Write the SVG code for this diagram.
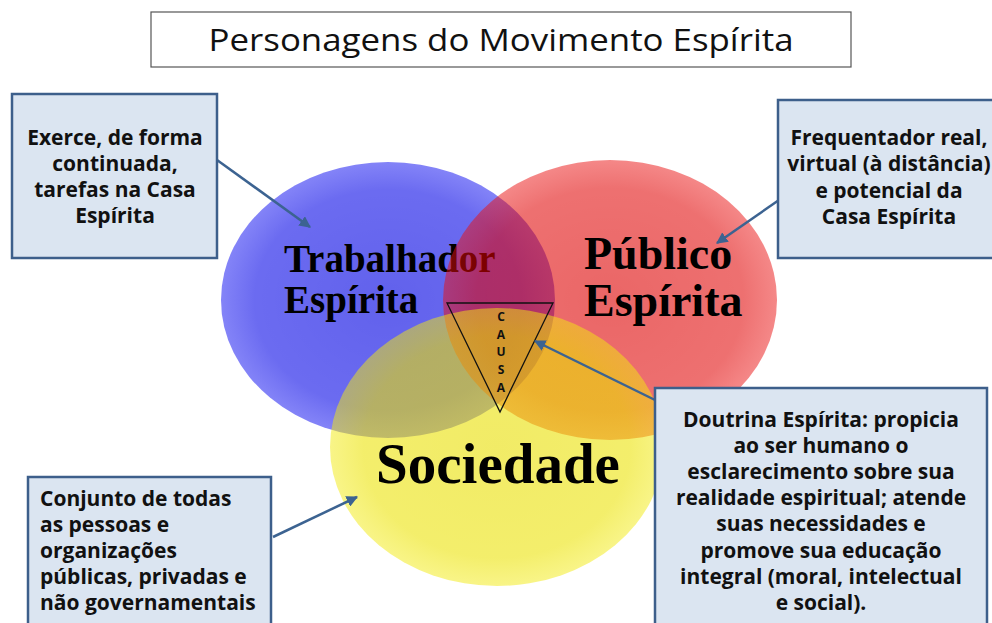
<svg xmlns="http://www.w3.org/2000/svg" width="992" height="623" viewBox="0 0 992 623">
<defs>
<style>
.box{fill:#dbe5f1;stroke:#3d5f8b;stroke-width:2.5}
.bt{font-family:"Open Sans","Liberation Sans",sans-serif;font-weight:bold;font-size:21px;fill:#111}
.c{text-anchor:middle}
.big{font-family:"Liberation Serif","Times New Roman",serif;font-weight:bold;fill:#000}
.arrow{stroke:#3c6391;stroke-width:2.5;fill:none;marker-end:url(#ah)}
</style>
<marker id="ah" viewBox="0 0 10 10" refX="9" refY="5" markerWidth="4.6" markerHeight="4.6" orient="auto" markerUnits="strokeWidth">
<path d="M0,0 L10,5 L0,10 z" fill="#3c6391"/>
</marker>
<radialGradient id="gb" cx="0.5" cy="0.5" r="0.5">
<stop offset="0" stop-color="#0000e0" stop-opacity="0.62"/>
<stop offset="0.8" stop-color="#0000e6" stop-opacity="0.58"/>
<stop offset="1" stop-color="#0808f0" stop-opacity="0.5"/>
</radialGradient>
<radialGradient id="gr" cx="0.5" cy="0.5" r="0.5">
<stop offset="0" stop-color="#dc0000" stop-opacity="0.6"/>
<stop offset="0.8" stop-color="#e00000" stop-opacity="0.56"/>
<stop offset="1" stop-color="#ea1010" stop-opacity="0.5"/>
</radialGradient>
<radialGradient id="gy" cx="0.5" cy="0.5" r="0.5">
<stop offset="0" stop-color="#e8de00" stop-opacity="0.6"/>
<stop offset="0.8" stop-color="#ebe200" stop-opacity="0.58"/>
<stop offset="1" stop-color="#f2ea10" stop-opacity="0.5"/>
</radialGradient>
</defs>
<rect width="992" height="623" fill="#ffffff"/>

<g id="title">
<rect x="151" y="12" width="700" height="55" fill="#fff" stroke="#555" stroke-width="1.2"/>
<text x="501" y="51" text-anchor="middle" font-family="'Open Sans','Liberation Sans',sans-serif" font-size="31" fill="#111" textLength="585" lengthAdjust="spacingAndGlyphs">Personagens do Movimento Espírita</text>
</g>

<g id="trabalhador">
<ellipse cx="388" cy="300" rx="167" ry="138" fill="url(#gb)"/>
<text class="big" x="284" y="272" font-size="39">Trabalhador</text>
<text class="big" x="284" y="313" font-size="39">Espírita</text>
</g>

<g id="publico">
<ellipse cx="610" cy="300" rx="167" ry="140" fill="url(#gr)"/>
<text class="big" x="584" y="269" font-size="46">Público</text>
<text class="big" x="584" y="316" font-size="46">Espírita</text>
</g>

<g id="sociedade">
<ellipse cx="497" cy="447" rx="167" ry="139" fill="url(#gy)"/>
<text class="big" x="498" y="483" font-size="57" text-anchor="middle">Sociedade</text>
</g>

<g id="causa">
<polygon points="447,303 553,303 500,412" fill="none" stroke="#111" stroke-width="1.3"/>
<g font-family="'Open Sans','Liberation Sans',sans-serif" font-weight="bold" font-size="12" text-anchor="middle" fill="#111">
<text x="501" y="321">C</text>
<text x="501" y="339">A</text>
<text x="501" y="356">U</text>
<text x="501" y="374">S</text>
<text x="501" y="392">A</text>
</g>
</g>

<g id="connectors">
<line class="arrow" x1="217" y1="160" x2="310" y2="227"/>
<line class="arrow" x1="779" y1="200" x2="717" y2="243"/>
<line class="arrow" x1="655" y1="400" x2="535" y2="341"/>
<line class="arrow" x1="273" y1="537" x2="357" y2="497"/>
</g>

<g id="box-trabalhador">
<rect class="box" x="12" y="94" width="205" height="164"/>
<text class="bt c" x="115" y="145">Exerce, de forma</text>
<text class="bt c" x="115" y="171">continuada,</text>
<text class="bt c" x="115" y="197">tarefas na Casa</text>
<text class="bt c" x="115" y="223">Espírita</text>
</g>

<g id="box-publico">
<rect class="box" x="778" y="100" width="230" height="158"/>
<text class="bt c" x="889" y="145">Frequentador real,</text>
<text class="bt c" x="889" y="171">virtual (à distância)</text>
<text class="bt c" x="889" y="198">e potencial da</text>
<text class="bt c" x="889" y="224">Casa Espírita</text>
</g>

<g id="box-doutrina">
<rect class="box" x="655" y="388" width="332" height="250"/>
<text class="bt c" x="821" y="427">Doutrina Espírita: propicia</text>
<text class="bt c" x="821" y="453">ao ser humano o</text>
<text class="bt c" x="821" y="479">esclarecimento sobre sua</text>
<text class="bt c" x="821" y="505">realidade espiritual; atende</text>
<text class="bt c" x="821" y="531">suas necessidades e</text>
<text class="bt c" x="821" y="558">promove sua educação</text>
<text class="bt c" x="821" y="584">integral (moral, intelectual</text>
<text class="bt c" x="821" y="610">e social).</text>
</g>

<g id="box-sociedade">
<rect class="box" x="28" y="477" width="243" height="160"/>
<text class="bt" x="40" y="506">Conjunto de todas</text>
<text class="bt" x="40" y="532">as pessoas e</text>
<text class="bt" x="40" y="558">organizações</text>
<text class="bt" x="40" y="584">públicas, privadas e</text>
<text class="bt" x="40" y="610">não governamentais</text>
</g>
</svg>
